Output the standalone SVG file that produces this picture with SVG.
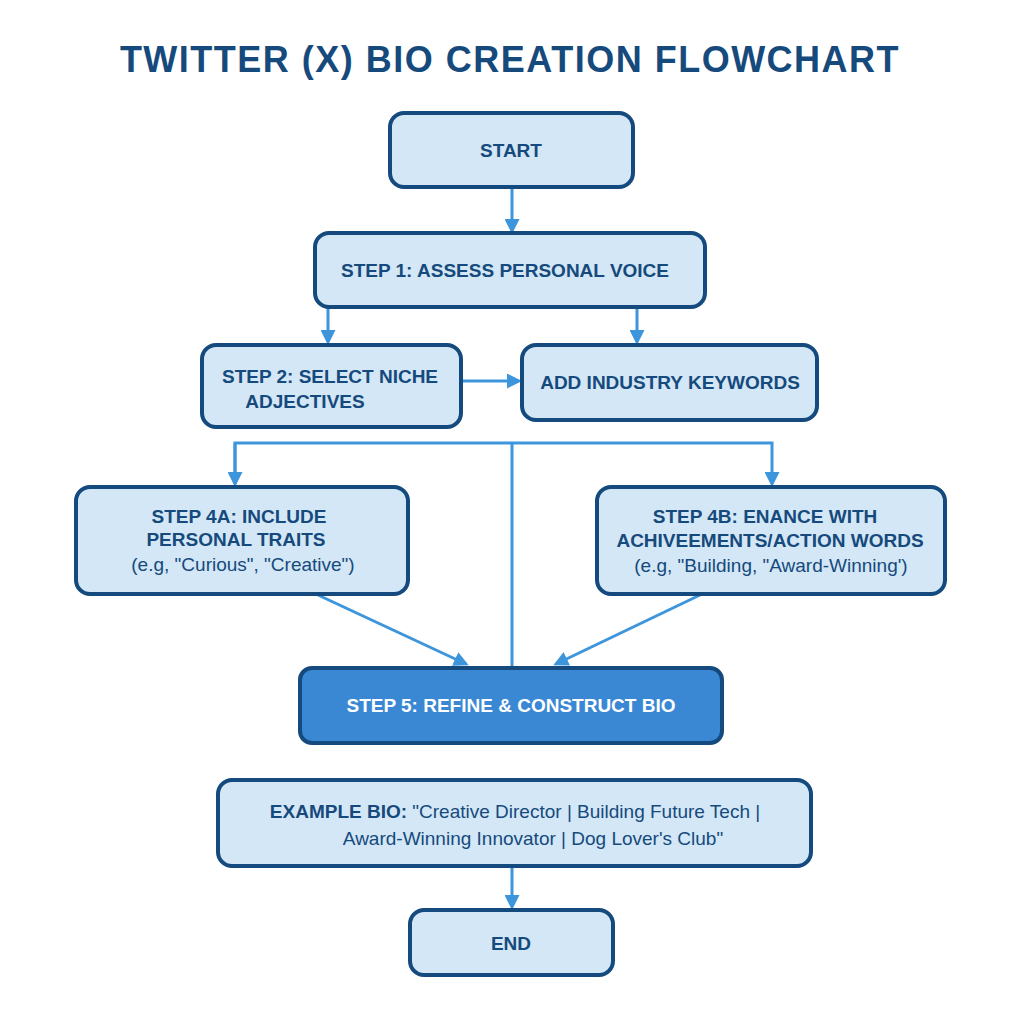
<svg xmlns="http://www.w3.org/2000/svg" width="1024" height="1024" viewBox="0 0 1024 1024">
<style>
.b{fill:#d3e7f6;stroke:#154a7e;stroke-width:4}
.t{font-family:"Liberation Sans",Arial,sans-serif;font-weight:bold;font-size:19px;fill:#164a7c;text-anchor:middle}
.c{stroke:#3d95dc;stroke-width:3;fill:none}
</style>
<defs><marker id="a" viewBox="0 0 10 10" refX="8" refY="5" markerWidth="5" markerHeight="5" orient="auto"><path d="M0,0L10,5L0,10z" fill="#3d95dc"/></marker></defs>
<rect width="1024" height="1024" fill="#fff"/>
<text x="510" y="72" class="t" style="font-size:36px;letter-spacing:1.5px">TWITTER (X) BIO CREATION FLOWCHART</text>
<g id="connectors">
<path class="c" d="M512,187V231" marker-end="url(#a)"/>
<path class="c" d="M328,307V342" marker-end="url(#a)"/>
<path class="c" d="M637,307V342" marker-end="url(#a)"/>
<path class="c" d="M461,381H519" marker-end="url(#a)"/>
<path class="c" d="M235,484V443H772V484" marker-end="url(#a)"/>
<path class="c" d="M235,443V484" marker-end="url(#a)"/>
<path class="c" d="M512,443V667"/>
<path class="c" d="M318,595L466,664" marker-end="url(#a)"/>
<path class="c" d="M700,595L556,664" marker-end="url(#a)"/>
<path class="c" d="M512,866V907" marker-end="url(#a)"/>
</g>
<g id="start"><rect class="b" x="390" y="113" width="243" height="74" rx="14"/><text class="t" x="511" y="157">START</text></g>
<g id="step1"><rect class="b" x="315" y="233" width="390" height="74" rx="14"/><text class="t" x="505" y="277">STEP 1: ASSESS PERSONAL VOICE</text></g>
<g id="step2"><rect class="b" x="202" y="345" width="259" height="82" rx="14"/><text class="t" x="330" y="383">STEP 2: SELECT NICHE</text><text class="t" x="305" y="408">ADJECTIVES</text></g>
<g id="keywords"><rect class="b" x="522" y="345" width="295" height="75" rx="14"/><text class="t" x="670" y="389">ADD INDUSTRY KEYWORDS</text></g>
<g id="step4a"><rect class="b" x="76" y="487" width="332" height="107" rx="14"/><text class="t" x="239" y="523">STEP 4A: INCLUDE</text><text class="t" x="236" y="546">PERSONAL TRAITS</text><text class="t" x="243" y="571" style="font-weight:normal">(e.g, "Curious", "Creative")</text></g>
<g id="step4b"><rect class="b" x="597" y="487" width="348" height="107" rx="14"/><text class="t" x="765" y="523">STEP 4B: ENANCE WITH</text><text class="t" x="770" y="547">ACHIVEEMENTS/ACTION WORDS</text><text class="t" x="771" y="572" style="font-weight:normal">(e.g, "Building, "Award-Winning')</text></g>
<g id="step5"><rect x="300" y="668" width="422" height="75" rx="12" fill="#3a88d4" stroke="#154a7e" stroke-width="4"/><text class="t" x="511" y="712" style="fill:#fff">STEP 5: REFINE &amp; CONSTRUCT BIO</text></g>
<g id="example"><rect class="b" x="218" y="780" width="593" height="86" rx="14"/><text class="t" x="515" y="818"><tspan>EXAMPLE BIO:</tspan><tspan style="font-weight:normal"> "Creative Director | Building Future Tech |</tspan></text><text class="t" x="533" y="845" style="font-weight:normal">Award-Winning Innovator | Dog Lover's Club"</text></g>
<g id="end"><rect class="b" x="410" y="910" width="203" height="65" rx="14"/><text class="t" x="511" y="950">END</text></g>
</svg>
